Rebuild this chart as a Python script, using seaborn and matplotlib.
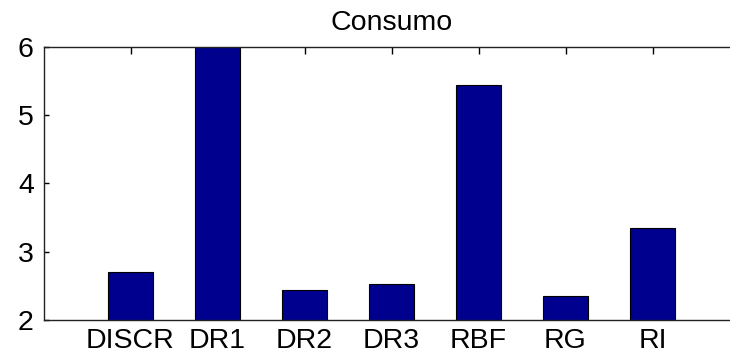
import matplotlib
matplotlib.use("Agg")
import matplotlib.pyplot as plt
import seaborn as sns
import pandas as pd

# Consumption per method
methods = ["DISCR", "DR1", "DR2", "DR3", "RBF", "RG", "RI"]
consumo = [2.70, 6.30, 2.44, 2.53, 5.44, 2.35, 3.35]
y_ticks = [2, 3, 4, 5, 6]

sns.set_theme(style="white")
plt.rcParams["font.family"] = ["Liberation Sans", "DejaVu Sans"]

df = pd.DataFrame({"method": methods, "consumo": consumo})

# category slots are 87 px apart; the full box would span 8 slots but is cut
# at the right edge of the figure, so only left, top and bottom sides show
W, H = 730, 356
left_px, bottom_px, slot_px = 43.5, 36.0, 87.0
axes_right_px = 700.0
full_width_px = 8 * slot_px

fig = plt.figure(figsize=(W / 100, H / 100), dpi=100, facecolor="white")
ax = fig.add_axes([left_px / W, bottom_px / H,
                   (axes_right_px - left_px) / W, 273.3 / H])

sns.barplot(data=df, x="method", y="consumo", order=methods, color="#00008F",
            saturation=1, width=0.52, edgecolor="black", linewidth=0.8, ax=ax)

ax.set_xlim(-1, -1 + (axes_right_px - left_px) / slot_px)
ax.set_ylim(2, 6)
ax.set_yticks(y_ticks)
ax.set_xlabel("")
ax.set_ylabel("")
# title centred over the full (uncut) box
ax.set_title("Consumo", fontsize=20.5, pad=12, color="black",
             x=(full_width_px / 2) / (axes_right_px - left_px))

# top and bottom frame lines run on to the figure edge
x_edge = -1 + (W - left_px) / slot_px
for side in ["left", "top", "bottom"]:
    ax.spines[side].set_color("#222222")
    ax.spines[side].set_linewidth(1.0)
ax.spines["top"].set_bounds(-1, x_edge)
ax.spines["bottom"].set_bounds(-1, x_edge)
ax.spines["right"].set_visible(False)

ax.tick_params(axis="x", direction="in", top=True, bottom=False, length=5,
               width=1, color="black", labelsize=20.5, labelcolor="black", pad=6)
ax.tick_params(axis="y", direction="in", left=True, right=False, length=3.5,
               width=1, color="black", labelsize=20.5, labelcolor="black", pad=7)

fig.savefig("out.png", dpi=100, facecolor="white")
